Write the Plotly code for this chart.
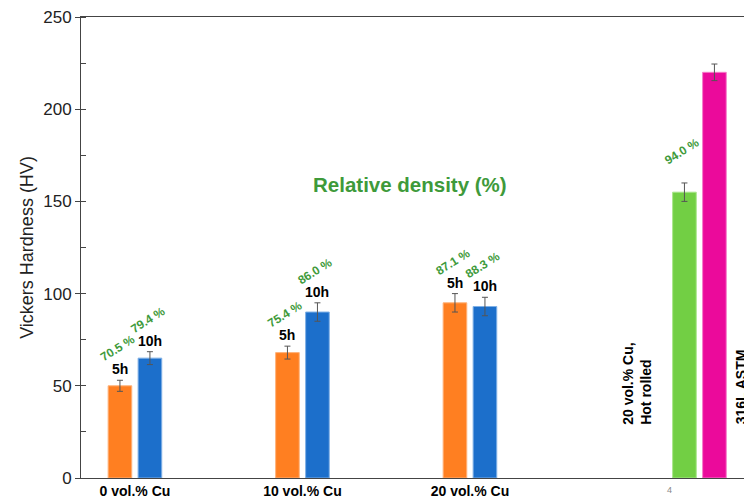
import plotly.graph_objects as go

# ---- data ----
groups = ["0 vol.% Cu", "10 vol.% Cu", "20 vol.% Cu"]
group_pos = [1, 2, 3]
hard_5h = [50, 68, 95]
err_5h = [3, 3.5, 5]
hard_10h = [65, 90, 93]
err_10h = [3.5, 5, 5]
dens_5h = ["70.5 %", "75.4 %", "87.1 %"]
dens_10h = ["79.4 %", "86.0 %", "88.3 %"]

extra_pos = [4.37]
hot_rolled = [155]
err_hot = [5]
dens_hot = ["94.0 %"]
astm = [220]
err_astm = [4.5]

FONT = "Arial, Liberation Sans, sans-serif"
ORANGE = "#FF7F21"
BLUE = "#1C6FCB"
GREEN = "#72CF44"
MAGENTA = "#EB0A9B"
DGREEN = "#3E9A3A"

OFF_L, OFF_R, W = -0.16, 0.019, 0.141

def errbar(arr):
    return dict(type="data", array=arr, visible=True, color="#555555",
                thickness=1, width=3)

fig = go.Figure()
fig.add_bar(x=group_pos, y=hard_5h, error_y=errbar(err_5h), offset=OFF_L, width=W,
            marker=dict(color=ORANGE, line=dict(color="#FFB27A", width=1)), name="5h")
fig.add_bar(x=group_pos, y=hard_10h, error_y=errbar(err_10h), offset=OFF_R, width=W,
            marker=dict(color=BLUE, line=dict(color="#7FB0E6", width=1)), name="10h")
fig.add_bar(x=extra_pos, y=hot_rolled, error_y=errbar(err_hot), offset=OFF_L, width=W,
            marker=dict(color=GREEN, line=dict(color="#A8E68A", width=1)), name="hot")
fig.add_bar(x=extra_pos, y=astm, error_y=errbar(err_astm), offset=OFF_R, width=W,
            marker=dict(color=MAGENTA, line=dict(color="#F57CC8", width=1)), name="astm")

ann = []
def hour_label(x, y, t):
    ann.append(dict(x=x, y=y, xref="x", yref="y", text="<b>%s</b>" % t, showarrow=False,
                    font=dict(family=FONT, size=14, color="black"),
                    yanchor="middle", yshift=11))

def dens_label(x, y, t):
    ann.append(dict(x=x, y=y, xref="x", yref="y", text="<b>%s</b>" % t, showarrow=False,
                    font=dict(family=FONT, size=12, color=DGREEN), textangle=-32,
                    yanchor="middle", xanchor="center", yshift=32, xshift=-2))

for i, g in enumerate(group_pos):
    xl = g + OFF_L + W / 2
    xr = g + OFF_R + W / 2
    hour_label(xl, hard_5h[i] + err_5h[i], "5h")
    hour_label(xr, hard_10h[i] + err_10h[i], "10h")
    dens_label(xl, hard_5h[i] + err_5h[i], dens_5h[i])
    dens_label(xr, hard_10h[i] + err_10h[i], dens_10h[i])

dens_label(extra_pos[0] + OFF_L + W / 2, hot_rolled[0] + err_hot[0], dens_hot[0])

ann.append(dict(x=2.64, y=159, xref="x", yref="y", text="<b>Relative density (%)</b>",
                showarrow=False, font=dict(family=FONT, size=20.5, color=DGREEN)))
ann.append(dict(x=4.0, y=28, xref="x", yref="y",
                text="<b>20 vol.% Cu,<br>Hot rolled</b>", showarrow=False,
                textangle=-90, align="left", yanchor="bottom", xanchor="center",
                font=dict(family=FONT, size=14, color="black")))
ann.append(dict(x=4.615, y=28, xref="x", yref="y",
                text="<b>316L ASTM</b>", showarrow=False,
                textangle=-90, align="left", yanchor="bottom", xanchor="center",
                font=dict(family=FONT, size=14, color="black")))
ann.append(dict(x=4.19, y=0, xref="x", yref="paper", text="4", showarrow=False,
                yanchor="top", yshift=-5,
                font=dict(family=FONT, size=9, color="#888888")))

fig.update_layout(
    width=744, height=501,
    margin=dict(l=81, r=0, t=17, b=23),
    plot_bgcolor="white", paper_bgcolor="white",
    barmode="overlay", showlegend=False,
    annotations=ann,
    font=dict(family=FONT),
)
fig.update_xaxes(range=[0.678, 4.636], tickvals=group_pos,
                 ticktext=["<b>%s</b>" % g for g in groups],
                 tickfont=dict(family=FONT, size=14, color="black"),
                 showline=True, linecolor="#444444", linewidth=1, mirror=True,
                 ticks="", showgrid=False, zeroline=False)
fig.update_yaxes(range=[0, 250], dtick=50, ticks="outside", ticklen=5,
                 tickcolor="#444444", showline=True, linecolor="#444444", linewidth=1,
                 showgrid=False, zeroline=False,
                 minor=dict(dtick=25, ticks="inside", ticklen=5, tickcolor="#444444"),
                 tickfont=dict(family=FONT, size=17, color="#222222"),
                 title=dict(text="Vickers Hardness (HV)", standoff=4,
                            font=dict(family=FONT, size=18, color="#222222")))

fig.write_html("out.html", config={"displayModeBar": False},
               post_script="document.body.style.margin='0px';document.body.style.overflow='hidden';")
